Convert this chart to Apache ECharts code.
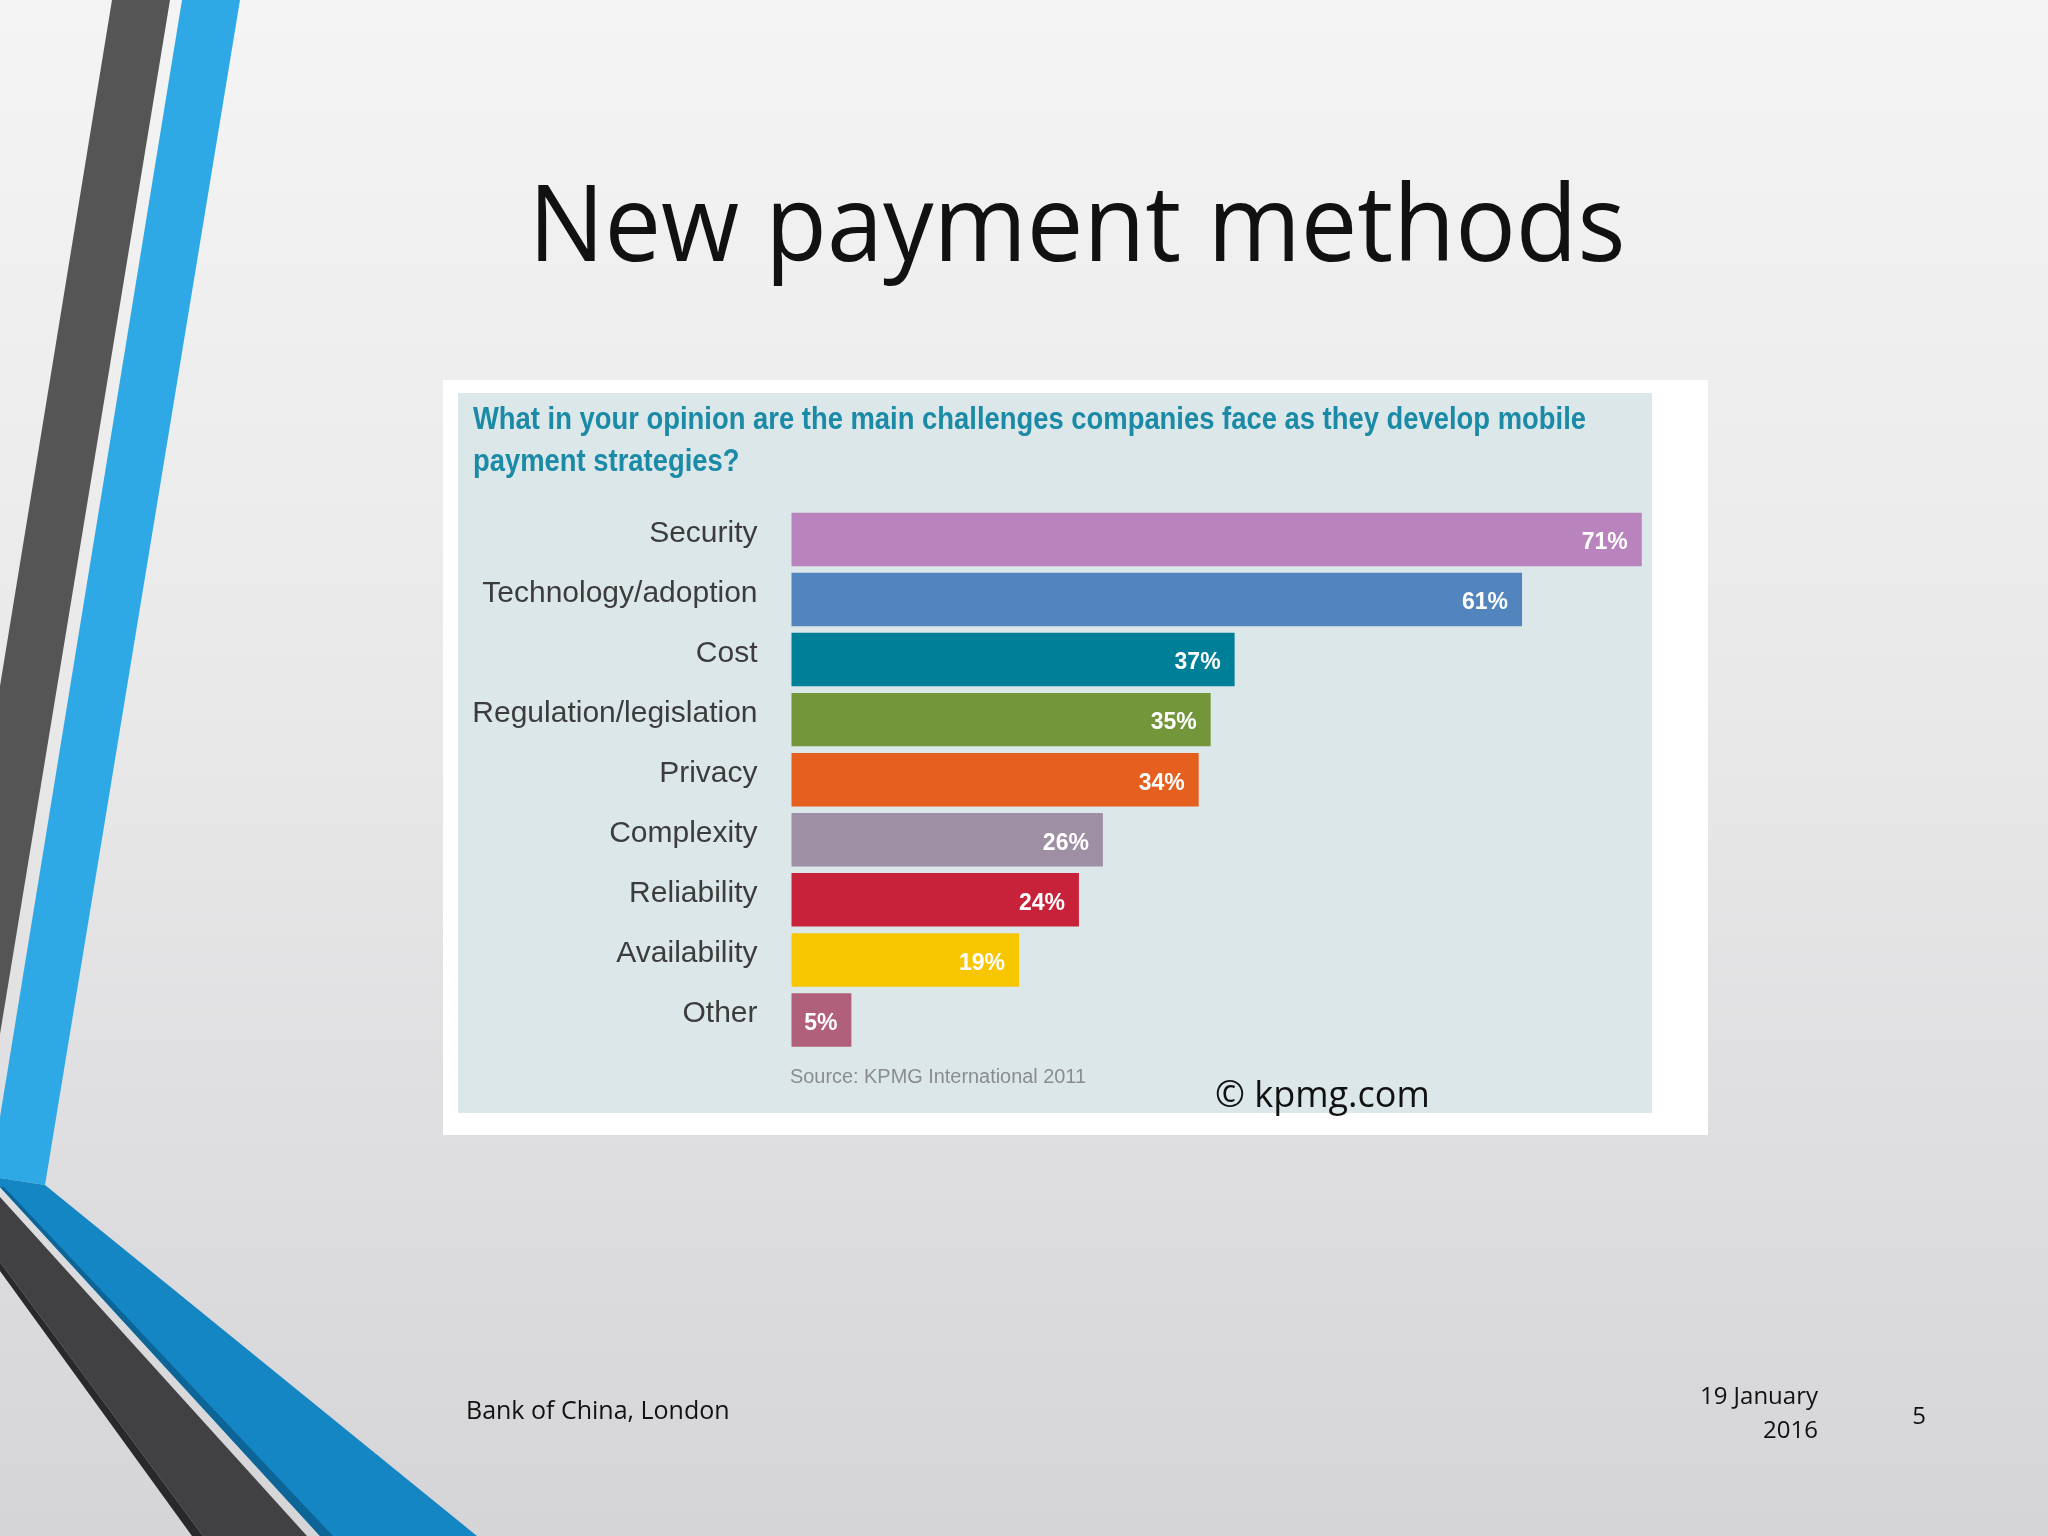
<!DOCTYPE html>
<html>
<head>
<meta charset="utf-8">
<title>New payment methods</title>
<script src="https://cdn.jsdelivr.net/npm/echarts@6/dist/echarts.min.js"></script>
<style>
  html, body { margin: 0; padding: 0; }
  #main { width: 2048px; height: 1536px; }
</style>
</head>
<body>
<div id="main"></div>
<script>
// data
var categories = ['Security', 'Technology/adoption', 'Cost', 'Regulation/legislation', 'Privacy',
  'Complexity', 'Reliability', 'Availability', 'Other'];
var shares = [71, 61, 37, 35, 34, 26, 24, 19, 5];
var barColors = ['#b984bd', '#5285bd', '#007f99', '#74963a', '#e5601f',
  '#9f8fa4', '#c8223a', '#f7c600', '#b0607a'];

var narrow = "'Liberation Sans', Arial, sans-serif";
var slideFont = "'Open Sans', 'Noto Sans', sans-serif";

var question1 = 'What in your opinion are the main challenges companies face as they develop mobile';
var question2 = 'payment strategies?';

// horizontal squeeze so a text fills the width it has in the picture
var measureCtx = document.createElement('canvas').getContext('2d');
function fitScale(text, font, width) {
  measureCtx.font = font;
  return width / measureCtx.measureText(text).width;
}

// slide decoration (left stripes)
function stripes() {
  var polys = [
    { pts: [[112, 0], [170, 0], [0, 1034], [0, 686]], fill: '#555555' },
    { pts: [[182, 0], [240, 0], [45, 1185], [0, 1178], [0, 1117]], fill: '#2fa9e6' },
    { pts: [[0, 1178], [45, 1185], [477, 1536], [320, 1536], [0, 1187]], fill: '#1486c4' },
    { pts: [[0, 1187], [4, 1187], [333, 1536], [320, 1536]], fill: '#0d6496' },
    { pts: [[0, 1197], [307, 1536], [203, 1536], [0, 1262]], fill: '#414042' },
    { pts: [[0, 1262], [203, 1536], [192, 1536], [0, 1271]], fill: '#29282a' }
  ];
  return polys.map(function (p) {
    return { type: 'polygon', z: -5, shape: { points: p.pts }, style: { fill: p.fill } };
  });
}

function initChart(chart) {
  var qFont = 'bold 31px ' + narrow;
  var srcFont = '20px ' + narrow;
  var titleFont = '106px ' + slideFont;
  var graphics = [
    {
      type: 'rect', z: -10, silent: true,
      shape: { x: 0, y: 0, width: 2048, height: 1536 },
      style: {
        fill: new echarts.graphic.LinearGradient(0, 0, 0, 1, [
          { offset: 0, color: '#f4f4f4' },
          { offset: 0.45, color: '#e9e9ea' },
          { offset: 1, color: '#d5d4d7' }
        ])
      }
    },
    // picture frame
    { type: 'rect', z: -5, shape: { x: 443, y: 380, width: 1265, height: 755 }, style: { fill: '#ffffff' } },
    { type: 'rect', z: -4, shape: { x: 458, y: 393, width: 1194, height: 720 }, style: { fill: '#dce7ea' } },
    {
      type: 'text', z: 3, x: 473, y: 399,
      scaleX: fitScale(question1, qFont, 1113),
      style: {
        text: question1 + '\n' + question2,
        font: qFont, fill: '#1a8aa7', lineHeight: 42
      }
    },
    {
      type: 'text', z: 3, x: 790, y: 1067,
      scaleX: fitScale('Source: KPMG International 2011', srcFont, 296),
      style: { text: 'Source: KPMG International 2011', font: srcFont, fill: '#8a8c8e' }
    },
    {
      type: 'text', z: 3, x: 1215, y: 1079,
      style: { text: '\u00a9 kpmg.com', font: '36px ' + slideFont, fill: '#111111' }
    },
    // slide title
    {
      type: 'text', z: 3, x: 1077, y: 178,
      scaleX: fitScale('New payment methods', titleFont, 1097),
      style: { text: 'New payment methods', font: titleFont, fill: '#111111', align: 'center' }
    },
    // footer
    {
      type: 'text', z: 3, x: 466, y: 1399,
      style: { text: 'Bank of China, London', font: '25px ' + slideFont, fill: '#111111' }
    },
    {
      type: 'text', z: 3, x: 1818, y: 1380,
      style: { text: '19 January\n2016', font: '24px ' + slideFont, fill: '#111111', align: 'right', lineHeight: 34 }
    },
    {
      type: 'text', z: 3, x: 1919, y: 1405,
      style: { text: '5', font: '24px ' + slideFont, fill: '#111111', align: 'center' }
    }
  ].concat(stripes());

  var option = {
    animation: false,
    backgroundColor: '#e8e8e9',
    graphic: graphics,
    grid: {
      left: 791.5,
      right: 406.2,
      top: 509.4,
      height: 540.6,
      containLabel: false
    },
    xAxis: {
      type: 'value',
      min: 0,
      max: 71,
      show: false
    },
    yAxis: {
      type: 'category',
      z: 5,
      inverse: true,
      data: categories,
      axisLine: { show: false },
      axisTick: { show: false },
      splitLine: { show: false },
      axisLabel: {
        margin: 34,
        color: '#3c3c3c',
        fontSize: 30,
        fontFamily: narrow,
        verticalAlign: 'bottom',
        lineHeight: 12
      }
    },
    series: [{
      type: 'bar',
      z: 4,
      barCategoryGap: '11%',
      data: shares.map(function (v, i) {
        return { value: v, itemStyle: { color: barColors[i] } };
      }),
      label: {
        show: true,
        position: 'insideRight',
        distance: 14,
        formatter: '{c}%',
        color: '#ffffff',
        fontWeight: 'bold',
        fontSize: 23,
        fontFamily: narrow,
        verticalAlign: 'top',
        lineHeight: 7
      }
    }]
  };
  chart.setOption(option);
  return chart;
}

var chart = echarts.init(document.getElementById('main'), null, { renderer: 'canvas' });
initChart(chart);
</script>
</body>
</html>
